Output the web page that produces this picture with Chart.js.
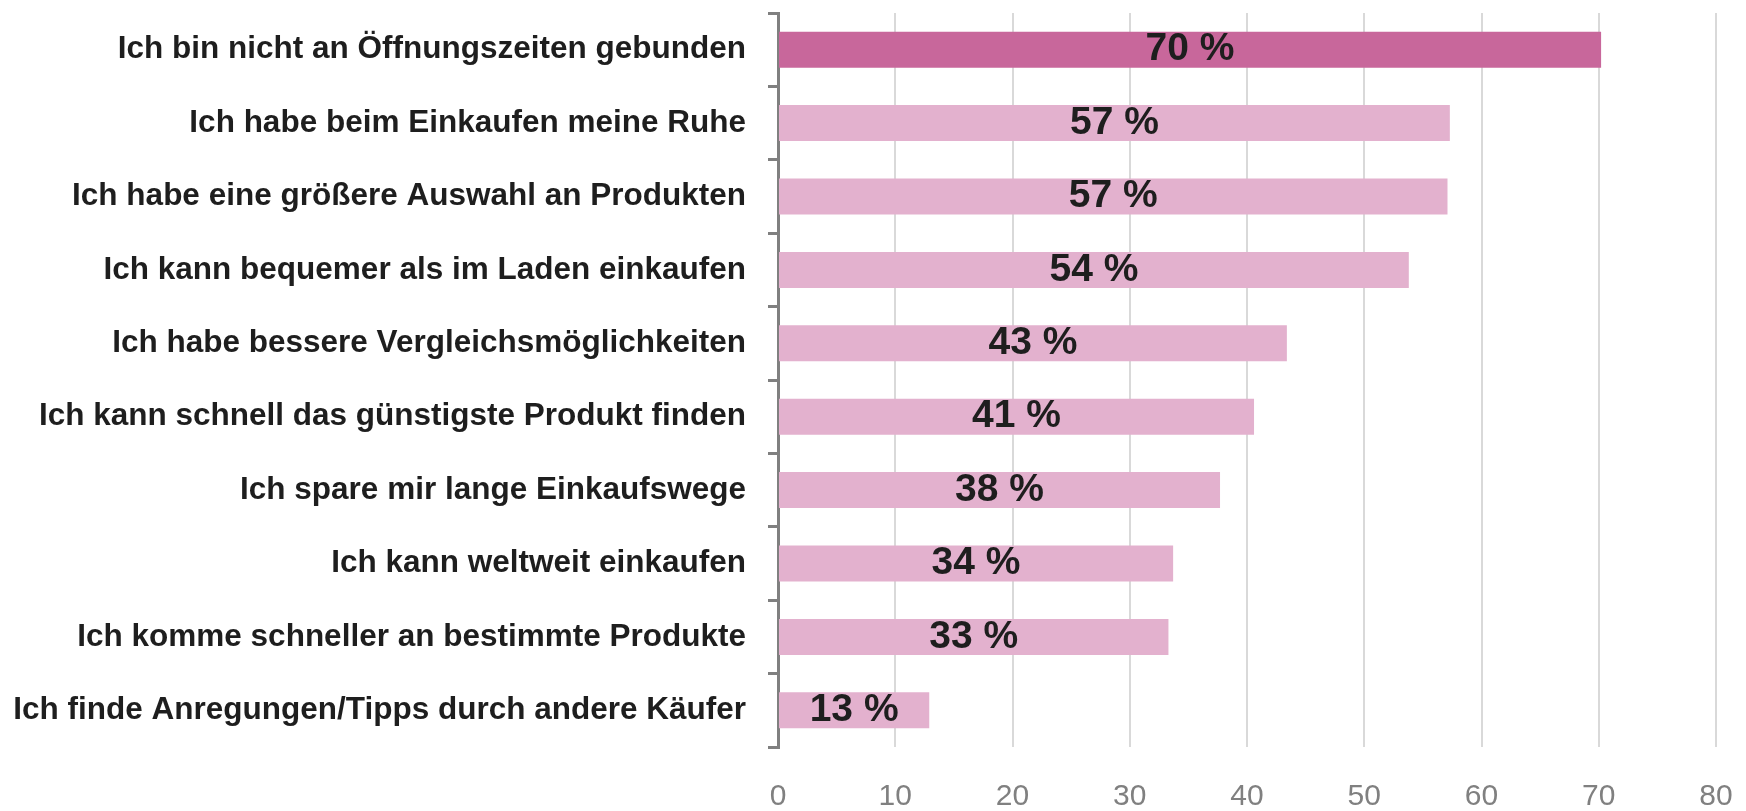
<!DOCTYPE html>
<html lang="de">
<head>
<meta charset="utf-8">
<title>Vorteile Online-Einkauf</title>
<script src="https://cdn.jsdelivr.net/npm/chart.js@4/dist/chart.umd.min.js"></script>
<style>
    html, body { margin: 0; padding: 0; background: #ffffff; }
    #wrap { width: 1746px; height: 811px; }
</style>
</head>
<body>
<div id="wrap"><canvas id="reasonsChart" width="1746" height="811"></canvas></div>
<script>
// Categories (top to bottom)
const categories = [
    'Ich bin nicht an Öffnungszeiten gebunden',
    'Ich habe beim Einkaufen meine Ruhe',
    'Ich habe eine größere Auswahl an Produkten',
    'Ich kann bequemer als im Laden einkaufen',
    'Ich habe bessere Vergleichsmöglichkeiten',
    'Ich kann schnell das günstigste Produkt finden',
    'Ich spare mir lange Einkaufswege',
    'Ich kann weltweit einkaufen',
    'Ich komme schneller an bestimmte Produkte',
    'Ich finde Anregungen/Tipps durch andere Käufer'
];

// Bar lengths
const values = [70.2, 57.3, 57.1, 53.8, 43.4, 40.6, 37.7, 33.7, 33.3, 12.9];

// Printed labels inside the bars
const valueLabels = ['70 %', '57 %', '57 %', '54 %', '43 %', '41 %', '38 %', '34 %', '33 %', '13 %'];

// X axis ticks
const xTicks = [0, 10, 20, 30, 40, 50, 60, 70, 80];

const FONT = '"Liberation Sans", Arial, Helvetica, sans-serif';
const DARK_PINK = '#c8679b';
const LIGHT_PINK = '#e3b1ce';

const barColors = values.map((v, i) => i === 0 ? DARK_PINK : LIGHT_PINK);

// Draw the percent labels centred in each bar
const barLabelPlugin = {
    id: 'barLabels',
    afterDatasetsDraw(chart) {
        const ctx = chart.ctx;
        const meta = chart.getDatasetMeta(0);
        ctx.save();
        ctx.font = `bold 39px ${FONT}`;
        ctx.fillStyle = '#1e1e1e';
        ctx.textAlign = 'center';
        ctx.textBaseline = 'middle';
        meta.data.forEach((bar, i) => {
            const cx = (bar.x + bar.base) / 2;
            ctx.fillText(valueLabels[i], cx, bar.y);
        });
        ctx.restore();
    }
};

// no extra label overflow padding, layout padding does it
function clearPadding(scale) {
    scale.paddingTop = 0;
    scale.paddingBottom = 0;
    scale.paddingLeft = 0;
    scale.paddingRight = 0;
}

const ctx = document.getElementById('reasonsChart').getContext('2d');

new Chart(ctx, {
    type: 'bar',
    data: {
        labels: categories,
        datasets: [{
            data: values,
            backgroundColor: barColors,
            borderWidth: 0,
            barPercentage: 0.49,
            categoryPercentage: 1
        }]
    },
    options: {
        indexAxis: 'y',
        responsive: false,
        animation: false,
        layout: {
            padding: { top: 13, right: 30, bottom: 0, left: 0 }
        },
        plugins: {
            legend: { display: false },
            tooltip: { enabled: false }
        },
        scales: {
            x: {
                min: 0,
                max: 80,
                afterBuildTicks: function(scale) {
                    scale.ticks = xTicks.map(v => ({ value: v }));
                },
                afterFit: function(scale) {
                    scale.height = 64;
                    clearPadding(scale);
                },
                grid: {
                    color: '#d9d9d9',
                    lineWidth: 2,
                    drawTicks: false
                },
                border: { display: false },
                ticks: {
                    padding: 32,
                    color: '#808080',
                    font: { family: FONT, size: 30 }
                }
            },
            y: {
                afterFit: function(scale) {
                    scale.width = 778;
                    clearPadding(scale);
                },
                grid: {
                    offset: true,
                    drawOnChartArea: false,
                    drawTicks: true,
                    tickLength: 10,
                    color: '#808080',
                    lineWidth: 3
                },
                border: {
                    display: true,
                    color: '#808080',
                    width: 3
                },
                ticks: {
                    padding: 22,
                    color: '#1e1e1e',
                    font: { family: FONT, size: 31.5, weight: 'bold' }
                }
            }
        }
    },
    plugins: [barLabelPlugin]
});
</script>
</body>
</html>
